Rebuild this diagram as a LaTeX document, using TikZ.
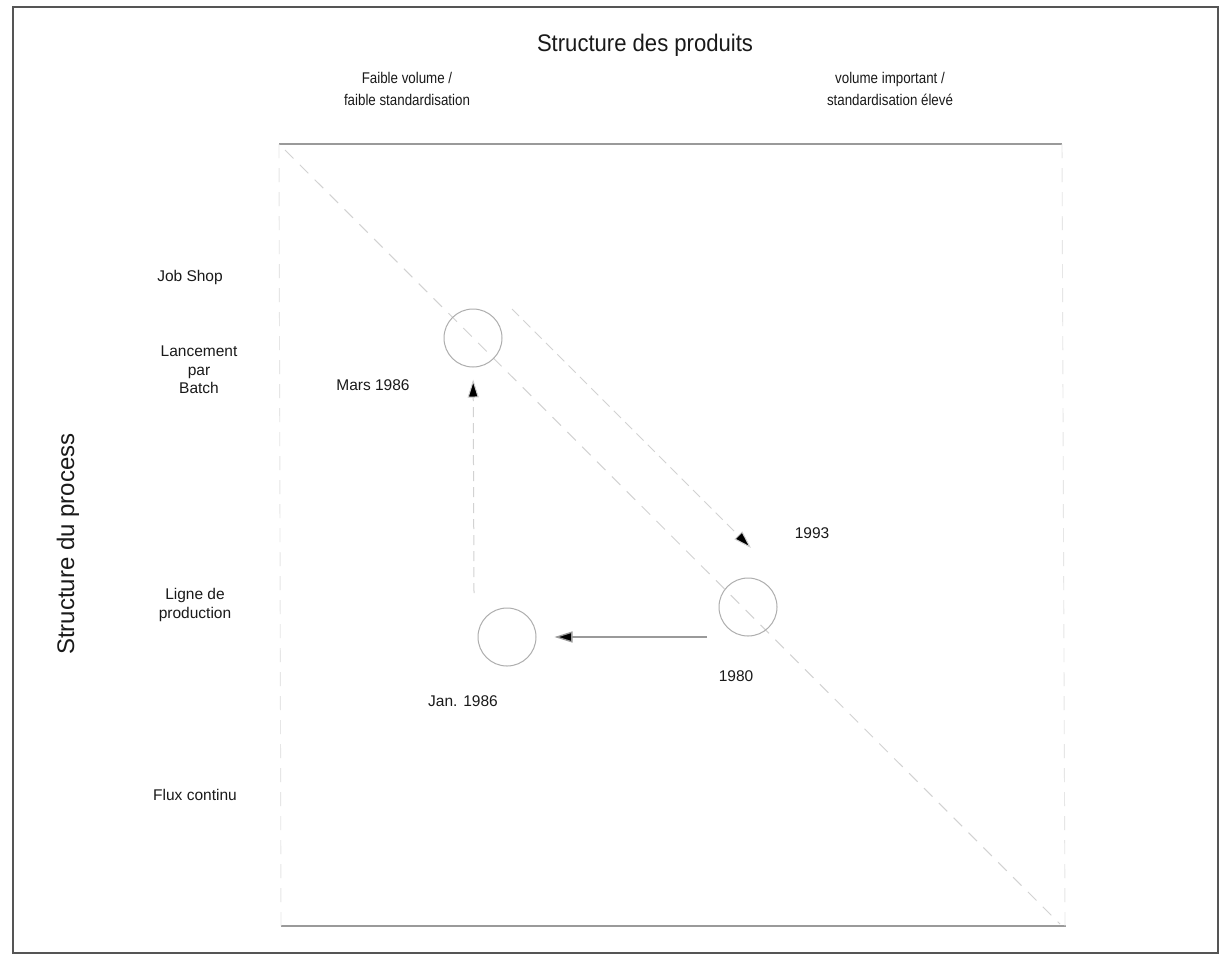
\documentclass[tikz,border=0pt]{standalone}
\usepackage{fontspec}
\setmainfont{Liberation Sans}
\newfontfamily\narrowsans[FakeStretch=0.86]{Liberation Sans}
\newfontfamily\titlesans[FakeStretch=0.92]{Liberation Sans}
\usetikzlibrary{arrows.meta}
\definecolor{txt}{HTML}{1A1A1A}
\definecolor{framec}{HTML}{555555}
\definecolor{sqc}{HTML}{9A9A9A}
\definecolor{faint}{HTML}{E6E6E6}
\definecolor{diagc}{HTML}{D2D2D2}
\definecolor{circc}{HTML}{AEAEAE}
\tikzset{
  lab/.style={text=txt, font=\fontsize{15.5}{18.5}\selectfont, inner sep=0pt, align=center},
  sub/.style={text=txt, font=\narrowsans\fontsize{15.5}{22}\selectfont, inner sep=0pt, align=center},
  big/.style={text=txt, font=\titlesans\fontsize{24}{28}\selectfont, inner sep=0pt},
  bigside/.style={text=txt, font=\fontsize{24}{28}\selectfont, inner sep=0pt},
  frameline/.style={draw=framec, line width=2pt},
  sqline/.style={draw=sqc, line width=1.6pt},
  sqside/.style={draw=faint, line width=0.9pt, dash pattern=on 14pt off 10pt},
  diagline/.style={draw=diagc, line width=1pt, dash pattern=on 12pt off 9pt},
  yearcircle/.style={circle, draw=circc, line width=1pt, minimum size=58pt, inner sep=0pt},
  tipstyle/.style={-{Triangle[length=18pt, width=11pt, fill=black]}},
  harrow/.style={tipstyle, draw=sqc, line width=1.3pt},
  varrow/.style={tipstyle, draw=diagc, line width=1pt, dash pattern=on 10pt off 6pt},
}
\begin{document}
\begin{tikzpicture}[x=1pt, y=-1pt]
\useasboundingbox (0,0) rectangle (1222,956);
\fill[white] (0,0) rectangle (1222,956);
\draw[frameline] (13,7) rectangle (1218,953);

% square of the matrix
\draw[sqline] (279,144) -- (1062,144);
\draw[sqline] (281,926) -- (1066,926);
\draw[sqside] (279,144) -- (281,926);
\draw[sqside] (1062,144) -- (1065,926);
\draw[diagline] (285,150) -- (1060,924);

% titles
\node[big] (top) at (645,45) {Structure des produits};
\node[sub] (lowv) at (407,89) {Faible volume /\\faible standardisation};
\node[sub] (highv) at (890,89) {volume important /\\standardisation élevé};
\node[bigside, rotate=90] (left) at (68,544) {Structure du process};

% row labels
\node[lab] (job) at (190,277) {Job Shop};
\node[lab] (batch) at (199,370) {Lancement\\par\\Batch};
\node[lab] (ligne) at (195,605) {Ligne de\\production};
\node[lab] (flux) at (195,795) {Flux continu};

% circles
\node[yearcircle] (mars) at (473,338) {};
\node[yearcircle] (c1980) at (748,607) {};
\node[yearcircle] (jan) at (507,637) {};

% year labels
\node[lab] (lmars) at (373,385) {Mars 1986};
\node[lab] (l1993) at (812,533) {1993};
\node[lab] (l1980) at (736,676) {1980};
\node[lab] (ljan) at (463,701) {Jan. 1986};

% connectors
\coordinate (hstart) at (707,637);
\draw[harrow, shorten >=18pt] (hstart) -- (jan);
\coordinate (vstart) at (474,593);
\draw[varrow, shorten >=12pt] (vstart) -- (mars);
\coordinate (dstart) at (512,309);
\coordinate (dend) at (751,548);
\draw[varrow] (dstart) -- (dend);
\end{tikzpicture}
\end{document}
